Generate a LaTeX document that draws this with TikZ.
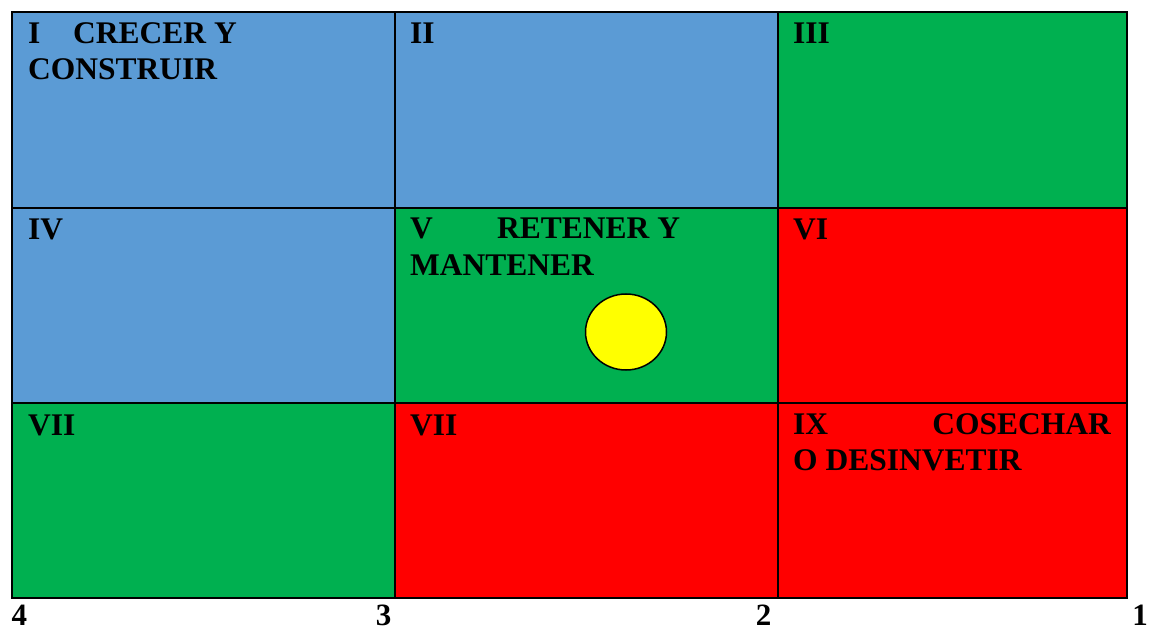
\documentclass[tikz,border=0pt]{standalone}
\usepackage{fontspec}
\setmainfont{Liberation Serif}
\usetikzlibrary{shapes.geometric}
\definecolor{cblue}{HTML}{5B9BD5}
\definecolor{cgreen}{HTML}{00B050}
\definecolor{cred}{HTML}{FF0000}
\definecolor{cyel}{HTML}{FFFF00}
\begin{document}
\begin{tikzpicture}[x=1pt,y=-1pt,
  cell/.style={draw=black,line width=1.4pt,minimum width=#1,inner sep=0pt,outer sep=0pt,anchor=north west},
  lbl/.style={anchor=base west,inner sep=0pt,font=\fontsize{31.5}{36}\selectfont\bfseries},
  num/.style={anchor=base,inner sep=0pt,font=\fontsize{31}{36}\selectfont\bfseries}]
\useasboundingbox (0,0) rectangle (1152,631);
% cells
\node[cell=383pt,minimum height=196pt,fill=cblue] (c1) at (12,12) {};
\node[cell=383pt,minimum height=196pt,fill=cblue] (c2) at (395,12) {};
\node[cell=349pt,minimum height=196pt,fill=cgreen] (c3) at (778,12) {};
\node[cell=383pt,minimum height=195pt,fill=cblue] (c4) at (12,208) {};
\node[cell=383pt,minimum height=195pt,fill=cgreen] (c5) at (395,208) {};
\node[cell=349pt,minimum height=195pt,fill=cred] (c6) at (778,208) {};
\node[cell=383pt,minimum height=195pt,fill=cgreen] (c7) at (12,403) {};
\node[cell=383pt,minimum height=195pt,fill=cred] (c8) at (395,403) {};
\node[cell=349pt,minimum height=195pt,fill=cred] (c9) at (778,403) {};
\node[draw=black,line width=2.6pt,inner sep=0pt,outer sep=0pt,minimum width=1115pt,minimum height=586pt,anchor=north west] (frame) at (12,12) {};
% circle
\node[ellipse,draw=black,line width=1.5pt,fill=cyel,minimum width=81pt,minimum height=76pt,inner sep=0pt] (dot) at (626,332) {};
% labels
\node[lbl] (t1a) at (28,44) {I};
\node[lbl] (t1b) at (73,44) {CRECER Y};
\node[lbl] (t1c) at (28,80) {CONSTRUIR};
\node[lbl] (t2) at (410,44) {II};
\node[lbl] (t3) at (793,44) {III};
\node[lbl] (t4) at (28,240) {IV};
\node[lbl] (t5a) at (410,239) {V};
\node[lbl] (t5b) at (497,239) {RETENER Y};
\node[lbl] (t5c) at (410,276) {MANTENER};
\node[lbl] (t6) at (793,240) {VI};
\node[lbl] (t7) at (28,435) {VII};
\node[lbl] (t8) at (410,435) {VII};
\node[lbl] (t9a) at (793,434) {IX};
\node[lbl,anchor=base east] (t9b) at (1111,434) {COSECHAR};
\node[lbl] (t9c) at (793,470) {O DESINVETIR};
% axis numbers
\node[num] (n4) at (19.5,625) {4};
\node[num] (n3) at (383.5,625) {3};
\node[num] (n2) at (763.5,625) {2};
\node[num] (n1) at (1140,625) {1};
\end{tikzpicture}
\end{document}
